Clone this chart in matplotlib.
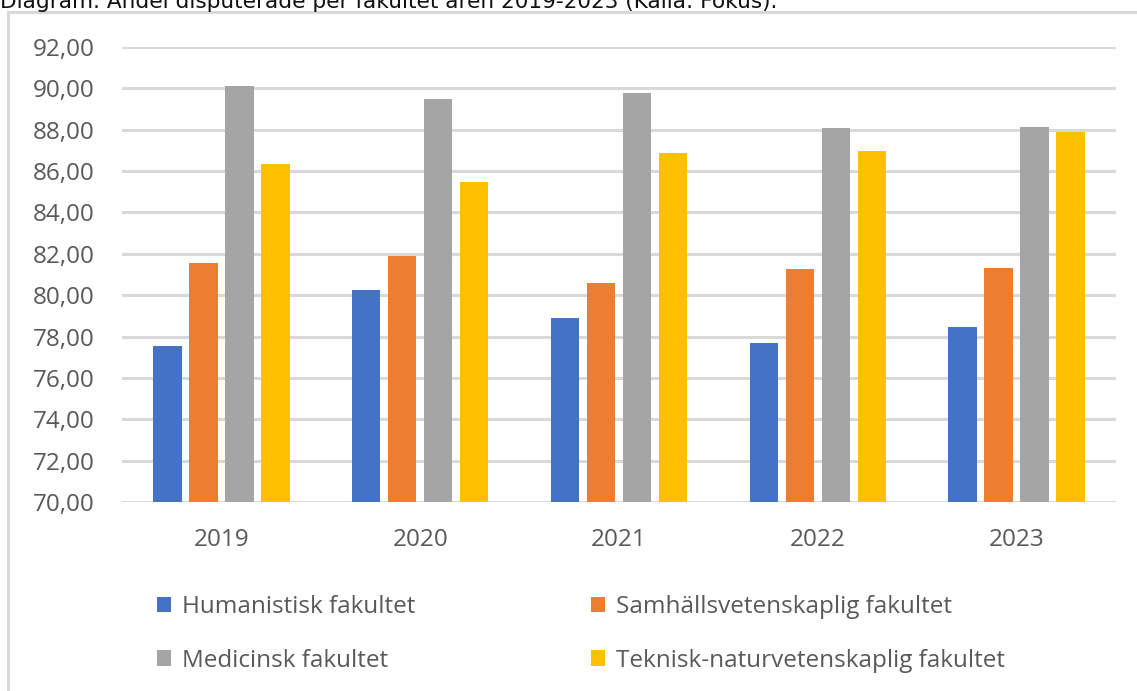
import numpy as np
import matplotlib.pyplot as plt
from matplotlib.lines import Line2D
from matplotlib.patches import Patch

years = ['2019', '2020', '2021', '2022', '2023']
fakulteter = ['Humanistisk fakultet', 'Samhällsvetenskaplig fakultet',
              'Medicinsk fakultet', 'Teknisk-naturvetenskaplig fakultet']
humanistisk = [77.56, 80.27, 78.89, 77.71, 78.45]
samhall = [81.55, 81.90, 80.58, 81.26, 81.32]
medicinsk = [90.13, 89.47, 89.76, 88.07, 88.15]
teknisk = [86.36, 85.49, 86.89, 86.99, 87.87]
series = [humanistisk, samhall, medicinsk, teknisk]
colors = ['#4472C4', '#ED7D31', '#A5A5A5', '#FFC000']
yticks = np.arange(70, 93, 2)

W, H = 1137, 691
fig = plt.figure(figsize=(W / 100, H / 100), dpi=100)
plt.rcParams['font.family'] = ['Open Sans', 'DejaVu Sans']
txt = '#595959'
grid = '#D9D9D9'

# frame around the chart object
fig.add_artist(Line2D([8 / W, 8 / W], [0, 1 - 12 / H], color=grid, lw=2.2))
fig.add_artist(Line2D([8 / W, 1], [1 - 12 / H, 1 - 12 / H], color=grid, lw=2.2))

fig.text(0, 1 - 8 / H, 'Diagram. Andel disputerade per fakultet åren 2019-2023 (Källa: Fokus).',
         family='DejaVu Sans', fontsize=15.6, va='baseline', ha='left', color='#111111')

ax = fig.add_axes([122 / W, 1 - 502 / H, (1116 - 122) / W, (502 - 47) / H])
x = np.arange(len(years))
step = 0.181
width = 0.1435
for i, (vals, c) in enumerate(zip(series, colors)):
    ax.bar(x + (i - 1.5) * step, np.array(vals) - 70, bottom=70, width=width,
           color=c, zorder=3)

ax.set_xlim(-0.5, len(years) - 0.5)
ax.set_ylim(70, 92)
ax.set_yticks(yticks)
ax.set_yticklabels([f'{v:.2f}'.replace('.', ',') for v in yticks])
ax.set_xticks(x)
ax.set_xticklabels(years)
ax.yaxis.grid(True, color=grid, lw=2.2, zorder=0)
ax.set_axisbelow(True)
for s in ax.spines.values():
    s.set_visible(False)
ax.tick_params(axis='both', length=0, labelsize=17.5, labelcolor=txt)
ax.tick_params(axis='y', pad=19.5)
ax.tick_params(axis='x', pad=19)

# legend fills column by column, so order items to read row-wise
order = [0, 2, 1, 3]
handles = [Patch(facecolor=colors[k]) for k in order]
labels = [fakulteter[k] for k in order]
fig.legend(handles, labels, ncol=2, loc='upper left',
           bbox_to_anchor=(135 / W, 1 - 573 / H), frameon=False,
           fontsize=17.5, labelcolor=txt, handlelength=0.6, handleheight=0.6,
           handletextpad=0.45, columnspacing=7.2, labelspacing=1.23)

fig.savefig('out.png', dpi=100)
